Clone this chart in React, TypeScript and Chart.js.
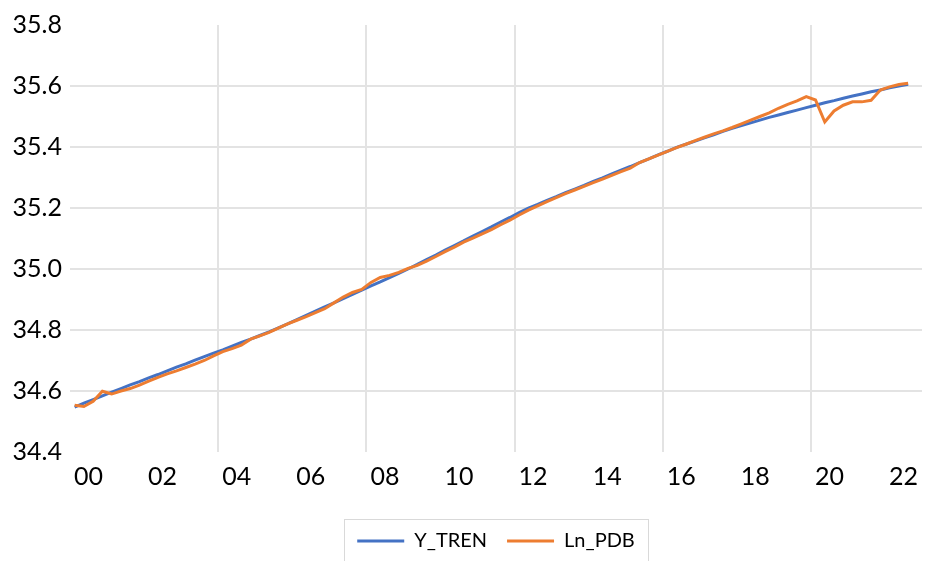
import { useEffect, useRef } from 'react';
import { Chart, registerables } from 'chart.js';

Chart.register(...registerables);

// Quarterly periods 2000Q1 .. 2022Q3
const quarters: string[] = [];
for (let y = 2000; y <= 2022; y++) {
  for (let q = 1; q <= 4; q++) {
    if (y === 2022 && q === 4) continue;
    quarters.push(`${y}Q${q}`);
  }
}

// Trend component
const yTren = [
  34.547, 34.560, 34.572, 34.584, 34.596, 34.608, 34.620, 34.631,
  34.643, 34.654, 34.666, 34.678, 34.689, 34.701, 34.713, 34.724,
  34.735, 34.747, 34.759, 34.770, 34.782, 34.794, 34.807, 34.820,
  34.834, 34.848, 34.862, 34.876, 34.889, 34.903, 34.917, 34.931,
  34.945, 34.958, 34.972, 34.986, 35.000, 35.015, 35.031, 35.046,
  35.062, 35.077, 35.092, 35.108, 35.123, 35.138, 35.154, 35.169,
  35.185, 35.200, 35.212, 35.225, 35.237, 35.250, 35.262, 35.274,
  35.287, 35.299, 35.312, 35.324, 35.336, 35.349, 35.361, 35.374,
  35.386, 35.399, 35.409, 35.419, 35.430, 35.440, 35.451, 35.461,
  35.470, 35.479, 35.488, 35.497, 35.505, 35.513, 35.521, 35.529,
  35.537, 35.545, 35.552, 35.560, 35.567, 35.574, 35.581, 35.587,
  35.594, 35.600, 35.606,
];

// Log of real GDP
const lnPdb = [
  34.553, 34.549, 34.566, 34.599, 34.590, 34.600, 34.608, 34.619,
  34.632, 34.645, 34.656, 34.666, 34.677, 34.688, 34.700, 34.715,
  34.729, 34.739, 34.750, 34.770, 34.781, 34.792, 34.806, 34.820,
  34.832, 34.844, 34.857, 34.870, 34.889, 34.908, 34.923, 34.933,
  34.956, 34.972, 34.979, 34.989, 35.002, 35.012, 35.026, 35.041,
  35.057, 35.072, 35.088, 35.101, 35.115, 35.129, 35.145, 35.160,
  35.177, 35.193, 35.207, 35.221, 35.234, 35.247, 35.259, 35.271,
  35.283, 35.295, 35.307, 35.319, 35.331, 35.349, 35.361, 35.373,
  35.386, 35.398, 35.409, 35.421, 35.432, 35.443, 35.453, 35.464,
  35.476, 35.488, 35.500, 35.512, 35.527, 35.540, 35.551, 35.565,
  35.554, 35.482, 35.518, 35.537, 35.548, 35.548, 35.553, 35.587,
  35.597, 35.605, 35.609,
];

const yTicks = [34.4, 34.6, 34.8, 35.0, 35.2, 35.4, 35.6, 35.8];
const labelYears = [2000, 2002, 2004, 2006, 2008, 2010, 2012, 2014, 2016, 2018, 2020, 2022];
const gridYears = [2004, 2008, 2012, 2016, 2020];

const BLUE = '#4472C4';
const ORANGE = '#ED7D31';
const GRID = '#e3e3e3';
const FONT = 'Lato, "Open Sans", sans-serif';

// quarter label -> position on a continuous year axis (centre of the quarter)
const quarterPos = (label: string) => {
  const [y, q] = label.split('Q').map(Number);
  return y + (q - 0.5) / 4;
};

const legendFrame = {
  id: 'legendFrame',
  afterDraw(chart: any) {
    const lg = chart.legend;
    const boxes = lg && lg.legendHitBoxes;
    if (!boxes || !boxes.length) return;
    const left = Math.min(...boxes.map((b: any) => b.left)) - 13;
    const right = Math.max(...boxes.map((b: any) => b.left + b.width)) + 13;
    const mid = boxes[0].top + boxes[0].height / 2;
    const top = mid - 22;
    const ctx = chart.ctx;
    ctx.save();
    ctx.strokeStyle = '#d9d9d9';
    ctx.lineWidth = 1;
    ctx.strokeRect(Math.round(left) + 0.5, Math.round(top) + 0.5, Math.round(right - left), chart.height);
    ctx.restore();
  },
};

export default function App() {
  const ref = useRef<HTMLCanvasElement>(null);

  useEffect(() => {
    if (!ref.current) return;
    const chart = new Chart(ref.current, {
      type: 'line',
      data: {
        datasets: [
          {
            label: 'Y_TREN',
            data: quarters.map((q, i) => ({ x: quarterPos(q), y: yTren[i] })),
            borderColor: BLUE,
            backgroundColor: BLUE,
            borderWidth: 3,
            pointRadius: 0,
            tension: 0,
            order: 1,
          },
          {
            label: 'Ln_PDB',
            data: quarters.map((q, i) => ({ x: quarterPos(q), y: lnPdb[i] })),
            borderColor: ORANGE,
            backgroundColor: ORANGE,
            borderWidth: 3,
            pointRadius: 0,
            tension: 0,
            order: 0,
          },
        ],
      },
      options: {
        animation: false,
        responsive: true,
        maintainAspectRatio: false,
        layout: { padding: { top: 25, right: 0, bottom: 0, left: 0 } },
        plugins: {
          tooltip: { enabled: false },
          legend: {
            position: 'bottom',
            fullSize: false,
            labels: {
              usePointStyle: true,
              pointStyle: 'line',
              pointStyleWidth: 47,
              boxHeight: 20,
              padding: 20,
              color: '#000',
              font: { family: FONT, size: 20 },
              sort: (a: any, b: any) => a.datasetIndex - b.datasetIndex,
            },
          },
        },
        scales: {
          x: {
            type: 'linear',
            min: 2000,
            max: 2023,
            border: { display: false },
            afterFit: (scale: any) => {
              scale.height = 59;
            },
            afterBuildTicks: (scale: any) => {
              const vals = [...gridYears, ...labelYears.map((y) => y + 0.5)].sort((a, b) => a - b);
              scale.ticks = vals.map((v) => ({ value: v }));
            },
            grid: {
              drawTicks: false,
              lineWidth: 2,
              color: (ctx: any) => (ctx.tick && gridYears.includes(ctx.tick.value) ? GRID : 'rgba(0,0,0,0)'),
            },
            ticks: {
              autoSkip: false,
              maxRotation: 0,
              padding: 10,
              color: '#000',
              font: { family: FONT, size: 25 },
              callback: (v: any) => {
                const n = Number(v);
                return Number.isInteger(n) ? '' : String(Math.floor(n) % 100).padStart(2, '0');
              },
            },
          },
          y: {
            min: 34.4,
            max: 35.8,
            border: { display: false },
            afterFit: (scale: any) => {
              scale.width = 70;
            },
            afterBuildTicks: (scale: any) => {
              scale.ticks = yTicks.map((v) => ({ value: v }));
            },
            grid: {
              drawTicks: false,
              lineWidth: 2,
              color: (ctx: any) => {
                const v = ctx.tick ? ctx.tick.value : NaN;
                return Math.abs(v - 34.4) < 1e-6 || Math.abs(v - 35.8) < 1e-6 ? 'rgba(0,0,0,0)' : GRID;
              },
            },
            ticks: {
              padding: 8,
              color: '#000',
              font: { family: FONT, size: 25 },
              callback: (v: any) => Number(v).toFixed(1),
            },
          },
        },
      },
      plugins: [legendFrame],
    });
    return () => chart.destroy();
  }, []);

  return (
    <div style={{ position: 'fixed', left: 0, top: 0, width: 928, height: 561, background: '#fff' }}>
      <canvas ref={ref} />
    </div>
  );
}
